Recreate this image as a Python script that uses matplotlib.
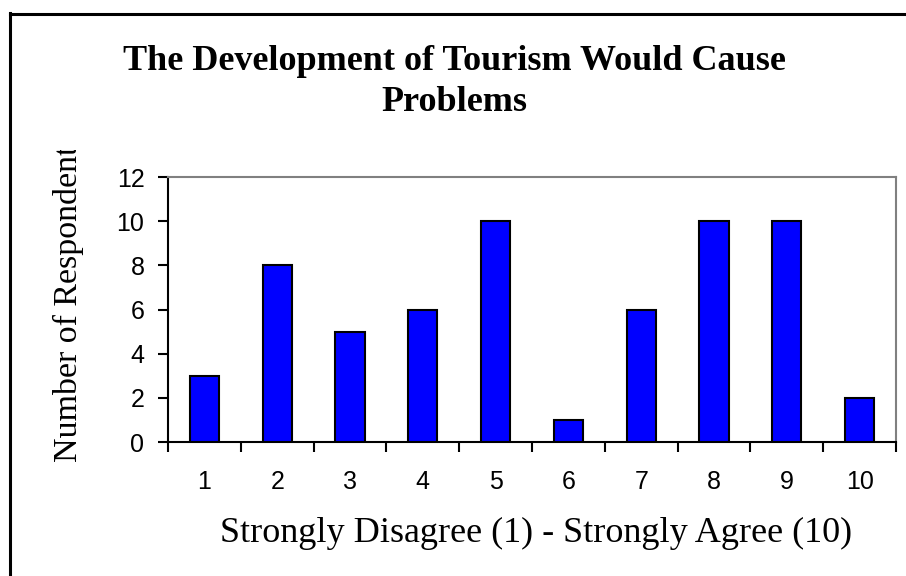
import matplotlib
matplotlib.use('Agg')
import matplotlib.pyplot as plt
from matplotlib.lines import Line2D
from matplotlib.transforms import Bbox

# survey responses per agreement score
scores = [1, 2, 3, 4, 5, 6, 7, 8, 9, 10]
respondents = [3, 8, 5, 6, 10, 1, 6, 10, 10, 2]
y_ticks = [0, 2, 4, 6, 8, 10, 12]

TITLE = 'The Development of Tourism Would Cause\nProblems'
X_LABEL = 'Strongly Disagree (1) - Strongly Agree (10)'
Y_LABEL = 'Number of Respondents'

SERIF = 'Liberation Serif'
SANS = 'Liberation Sans'

fig = plt.figure(figsize=(9.06, 5.76), dpi=100)
ax = fig.add_axes([168 / 906, 134 / 576, 728 / 906, 265 / 576])

positions = list(range(len(scores)))
ax.bar(positions, respondents, width=0.4, color='#0000FF',
       edgecolor='black', linewidth=1.5, zorder=3)

ax.set_xlim(-0.5, len(scores) - 0.5)
ax.set_ylim(0, 12)
ax.set_yticks(y_ticks)
ax.set_yticklabels([str(t) for t in y_ticks], fontfamily=SANS, fontsize=18)

# category labels centred under bars, tick marks between categories
ax.set_xticks(positions)
ax.set_xticklabels([str(s) for s in scores], fontfamily=SANS, fontsize=18)
ax.tick_params(axis='x', which='major', length=0, pad=20)
ax.set_xticks([p - 0.5 for p in positions] + [len(scores) - 0.5], minor=True)
ax.tick_params(axis='x', which='minor', length=7, width=1.5, direction='out')
ax.tick_params(axis='y', length=7, width=1.5, direction='out', pad=10)

for side in ['left', 'bottom']:
    ax.spines[side].set_color('black')
    ax.spines[side].set_linewidth(1.5)
for side in ['top', 'right']:
    ax.spines[side].set_color('#808080')
    ax.spines[side].set_linewidth(1.5)

fig.text(0.502, 1 - 82 / 576, TITLE, ha='center', va='center',
         fontfamily=SERIF, fontweight='bold', fontsize=26, linespacing=1.3)
fig.text(536 / 906, 1 - 533 / 576, X_LABEL, ha='center', va='center',
         fontfamily=SERIF, fontsize=26)

# axis title runs past the top of the chart area and gets cut there
ylab = fig.text(68 / 906, 1 - 462 / 576, Y_LABEL, ha='center', va='bottom',
                rotation=90, fontfamily=SERIF, fontsize=24.5)
ylab.set_clip_box(Bbox([[0, 0], [906, 576 - 150]]))
ylab.set_clip_on(True)

# chart frame on the left and top edges
fig.add_artist(Line2D([10 / 906, 10 / 906], [0, 1 - 13 / 576],
                      transform=fig.transFigure, color='black', linewidth=2.2))
fig.add_artist(Line2D([10 / 906, 1], [1 - 14 / 576, 1 - 14 / 576],
                      transform=fig.transFigure, color='black', linewidth=2.2))

fig.savefig('out.png', dpi=100)
